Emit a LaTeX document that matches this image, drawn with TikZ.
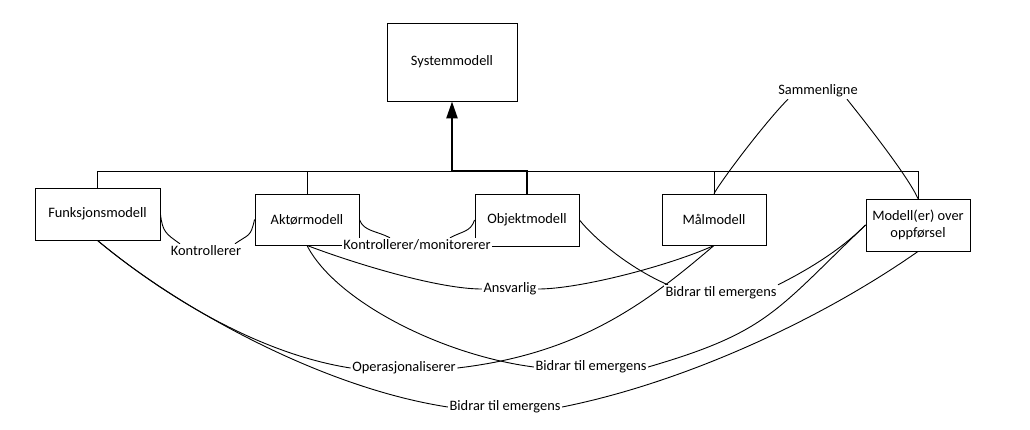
\documentclass[tikz,border=0pt]{standalone}
\usepackage{fontspec}
\setmainfont{Carlito}
\usetikzlibrary{arrows.meta,backgrounds}
\begin{document}
\begin{tikzpicture}[x=1pt,y=-1pt,
  box/.style={draw,line width=0.9pt,fill=white,minimum width=104pt,minimum height=51pt,inner sep=0pt,align=center,font=\fontsize{14.4}{17}\selectfont},
  lbl/.style={fill=white,inner sep=1.5pt,text height=10pt,text depth=3pt,font=\fontsize{14.4}{17}\selectfont},
  conn/.style={line width=0.9pt},
  ]
\useasboundingbox (0,0) rectangle (1030,429);
% boxes
\node[box,minimum width=130pt,minimum height=78pt] (sys) at (452,62) {Systemmodell};
\node[box,minimum width=125pt,minimum height=52pt] (funk) at (97.5,214) {Funksjonsmodell};
\node[box] (akt) at (307,219.5) {Aktørmodell};
\node[box,minimum height=52pt] (obj) at (527,220) {Objektmodell};
\node[box] (maal) at (714,219.5) {Målmodell};
\node[box,minimum height=52pt] (mod) at (918,225) {Modell(er) over\\oppførsel};
% labels
\node[lbl] (lK) at (206,252) {Kontrollerer};
\node[lbl] (lKM) at (417,246) {Kontrollerer/monitorerer};
\node[lbl] (lA) at (510,289) {Ansvarlig};
\node[lbl] (lB1) at (721,293) {Bidrar til emergens};
\node[lbl] (lS) at (818,91) {Sammenligne};
\node[lbl] (lO) at (404,368) {Operasjonaliserer};
\node[lbl] (lB2) at (591,367) {Bidrar til emergens};
\node[lbl] (lB3) at (505,407) {Bidrar til emergens};
\coordinate (bus) at (452,171);
\begin{scope}[on background layer]
% hierarchy
\draw[conn] (funk.north) -- (funk.north |- bus) -- (mod.north |- bus) -- (mod.north);
\draw[conn] (akt.north) -- (akt.north |- bus);
\draw[conn] (maal.north) -- (maal.north |- bus);
\draw[line width=2.4pt,-{Triangle[width=11pt,length=17pt]}] (obj.north) |- (bus) -- (sys.south);
% associations
\draw[conn] (funk.east) .. controls +(2,18) and +(-14,-10) .. ([xshift=-26pt]lK.north);
\draw[conn] ([xshift=29pt]lK.north) .. controls +(14,-10) and +(-4,18) .. (akt.west);
\draw[conn] (akt.east) .. controls +(4,12) and +(-13,-7) .. ([xshift=-27pt]lKM.north);
\draw[conn] ([xshift=33pt]lKM.north) .. controls +(13,-7) and +(-4,12) .. (obj.west);
\draw[conn] (akt.south) .. controls +(53,20) and +(-42,0) .. (lA.west);
\draw[conn] (lA.east) .. controls +(42,0) and +(-44,20) .. (maal.south);
\draw[conn] (akt.south) .. controls +(28,55) and +(-93,-12) .. (lB2.west);
\draw[conn] (lB2.east) .. controls +(120,-35) and +(-90,86) .. (mod.west);
\draw[conn] (obj.east) .. controls +(18,22) and +(-35,-15) .. ([xshift=-53pt]lB1.north);
\draw[conn] ([xshift=57pt]lB1.north) .. controls +(30,-15) and +(-25,25) .. (mod.west);
\draw[conn] (funk.south) .. controls +(70,58) and +(-90,-14) .. (lO.west);
\draw[conn] (lO.east) .. controls +(120,-14) and +(-70,60) .. (maal.south);
\draw[conn] (funk.south) .. controls +(76,64) and +(-130,-20) .. (lB3.west);
\draw[conn] (lB3.east) .. controls +(120,-24) and +(-100,70) .. (mod.south);
\draw[conn] (maal.north) .. controls +(12,-20) and +(-20,20) .. ([xshift=-30pt]lS.south);
\draw[conn] ([xshift=29pt]lS.south) .. controls +(20,25) and +(-10,-22) .. (mod.north);
\end{scope}
\end{tikzpicture}
\end{document}
